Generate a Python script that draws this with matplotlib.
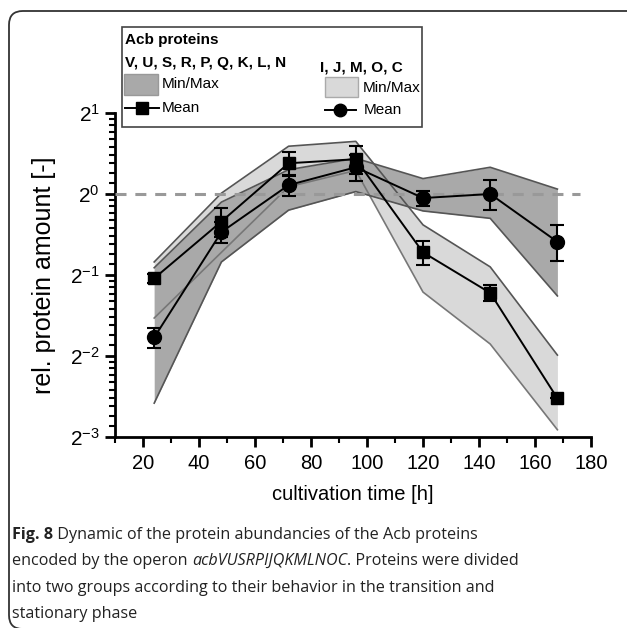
import numpy as np
import matplotlib
matplotlib.use("Agg")
import matplotlib.pyplot as plt
from matplotlib.patches import FancyBboxPatch, Rectangle
from matplotlib.lines import Line2D
from matplotlib.ticker import LogLocator, FuncFormatter, MultipleLocator, NullFormatter

# ---------------- data ----------------
time_h = [24, 48, 72, 96, 120, 144, 168]

# squares (mean) with light min/max band
sq_mean = [0.486, 0.790, 1.301, 1.347, 0.607, 0.429, 0.174]
sq_err = [0.02, 0.10, 0.13, 0.16, 0.06, 0.03, 0.0]
light_max = [0.559, 1.007, 1.505, 1.569, 0.768, 0.536, 0.252]
light_min = [0.346, 0.607, 1.064, 1.223, 0.432, 0.277, 0.133]

# circles (mean) with dark min/max band
ci_mean = [0.293, 0.722, 1.079, 1.257, 0.966, 1.000, 0.664]
ci_err = [0.025, 0.063, 0.10, 0.14, 0.06, 0.13, 0.10]
dark_max = [0.532, 0.933, 1.231, 1.357, 1.141, 1.257, 1.043]
dark_min = [0.167, 0.559, 0.871, 1.021, 0.865, 0.812, 0.418]

y_exponents = [-3, -2, -1, 0, 1]
x_ticks = [20, 40, 60, 80, 100, 120, 140, 160, 180]

group1_label = "V, U, S, R, P, Q, K, L, N"
group2_label = "I, J, M, O, C"

# ---------------- style ----------------
FONT = ["Liberation Sans", "DejaVu Sans"]
plt.rcParams["font.family"] = FONT
plt.rcParams["mathtext.fontset"] = "custom"
plt.rcParams["mathtext.rm"] = "Liberation Sans"
plt.rcParams["mathtext.it"] = "Liberation Sans"

W, H = 627, 628
fig = plt.figure(figsize=(W / 100, H / 100), dpi=100)

def fx(px):
    return px / W

def fy(py):
    return 1 - py / H

# outer rounded frame
frame = FancyBboxPatch((fx(9), fy(629)), fx(645) - fx(9), fy(11) - fy(629),
                       boxstyle="round,pad=0,rounding_size=0.022",
                       transform=fig.transFigure, fill=False,
                       edgecolor="#333333", linewidth=1.3, clip_on=False)
fig.patches.append(frame)

ax = fig.add_axes([fx(115), fy(437), fx(591) - fx(115), fy(113) - fy(437)])

LIGHT = "#d9d9d9"
DARK = "#a9a9a9"
EDGE = "#555555"

ax.fill_between(time_h, light_min, light_max, color=LIGHT, lw=0, zorder=1)
ax.fill_between(time_h, dark_min, dark_max, color=DARK, lw=0, zorder=2)
for arr, c in [(light_max, EDGE), (light_min, "#777777"), (dark_max, EDGE), (dark_min, EDGE)]:
    ax.plot(time_h, arr, color=c, lw=1.2, zorder=3)

ax.plot([10, 176], [1, 1], color="#999999", lw=2.2, ls=(0, (3.6, 2.9)), zorder=4)

ax.errorbar(time_h, sq_mean, yerr=sq_err, color="black", lw=1.4, marker="s",
            ms=9, capsize=5, capthick=1.5, elinewidth=1.5, zorder=6)
ax.errorbar(time_h, ci_mean, yerr=ci_err, color="black", lw=1.4, marker="o",
            ms=10, capsize=5, capthick=1.5, elinewidth=1.5, zorder=6)

ax.set_yscale("log", base=2)
ax.set_ylim(2.0 ** -3, 2.0 ** 1)
ax.set_xlim(10, 180)
ax.set_yticks([2.0 ** e for e in y_exponents])
ax.yaxis.set_major_formatter(FuncFormatter(lambda v, p: r"$2^{%d}$" % int(round(np.log2(v)))))
ax.yaxis.set_minor_locator(LogLocator(base=2, subs=np.arange(1.1, 2.0, 0.1)))
ax.yaxis.set_minor_formatter(NullFormatter())
ax.set_xticks(x_ticks)
ax.xaxis.set_minor_locator(MultipleLocator(10))
ax.xaxis.set_minor_formatter(NullFormatter())

for s in ["top", "right"]:
    ax.spines[s].set_visible(False)
for s in ["left", "bottom"]:
    ax.spines[s].set_linewidth(2)
ax.tick_params(which="major", length=7, width=2, direction="out")
ax.tick_params(which="minor", length=4, width=1.5, direction="out")
ax.tick_params(axis="x", labelsize=14.5, pad=5)
ax.tick_params(axis="y", labelsize=15, pad=4)
ax.set_facecolor("none")

ax.set_xlabel("cultivation time [h]", fontsize=14.5, labelpad=9)
ax.set_ylabel("rel. protein amount [-]", fontsize=18, labelpad=10)

# ---------------- legend box ----------------
fig.patches.append(Rectangle((fx(122), fy(127)), fx(422) - fx(122), fy(27) - fy(127),
                             transform=fig.transFigure, facecolor="white",
                             edgecolor="#444444", lw=1.2, zorder=10))
tk = dict(transform=fig.transFigure, va="center", ha="left", zorder=11)
LFS = 11
fig.text(fx(125), fy(40), "Acb proteins", fontsize=LFS, fontweight="bold", **tk)
fig.text(fx(125), fy(63), group1_label, fontsize=LFS, fontweight="bold", **tk)
fig.text(fx(320), fy(67), group2_label, fontsize=LFS, fontweight="bold", **tk)
fig.patches.append(Rectangle((fx(124), fy(95)), fx(158) - fx(124), fy(74) - fy(95),
                             transform=fig.transFigure, facecolor=DARK,
                             edgecolor="#999999", lw=1, zorder=11))
fig.patches.append(Rectangle((fx(325), fy(97)), fx(358) - fx(325), fy(77) - fy(97),
                             transform=fig.transFigure, facecolor=LIGHT,
                             edgecolor="#aaaaaa", lw=1, zorder=11))
fig.text(fx(162), fy(84), "Min/Max", fontsize=LFS, **tk)
fig.text(fx(363), fy(88), "Min/Max", fontsize=LFS, **tk)
fig.lines.append(Line2D([fx(125), fx(159)], [fy(108), fy(108)], transform=fig.transFigure,
                        color="black", lw=1.4, zorder=12))
fig.lines.append(Line2D([fx(142)], [fy(108)], transform=fig.transFigure,
                        color="black", marker="s", ms=8, ls="none", zorder=12))
fig.text(fx(162), fy(108), "Mean", fontsize=LFS, **tk)
fig.lines.append(Line2D([fx(325), fx(356)], [fy(110), fy(110)], transform=fig.transFigure,
                        color="black", lw=1.4, zorder=12))
fig.lines.append(Line2D([fx(340)], [fy(110)], transform=fig.transFigure,
                        color="black", marker="o", ms=9, ls="none", zorder=12))
fig.text(fx(364), fy(110), "Mean", fontsize=LFS, **tk)

# ---------------- caption ----------------
CAP = ["Open Sans", "DejaVu Sans"]
CFS = 11.6
cap_lines_y = [535, 561, 588, 614]
fig.canvas.draw()
r = fig.canvas.get_renderer()

def run(parts, ypx):
    x = fx(12)
    for txt, kw in parts:
        t = fig.text(x, fy(ypx), txt, fontsize=CFS, family=CAP, color="#222222",
                     va="center", ha="left", **kw)
        bb = t.get_window_extent(r)
        x = bb.x1 / W

run([("Fig. 8", dict(fontweight="bold")),
     (" Dynamic of the protein abundancies of the Acb proteins", {})], cap_lines_y[0])
run([("encoded by the operon ", {}), ("acbVUSRPIJQKMLNOC", dict(style="italic")),
     (". Proteins were divided", {})], cap_lines_y[1])
run([("into two groups according to their behavior in the transition and", {})], cap_lines_y[2])
run([("stationary phase", {})], cap_lines_y[3])

fig.savefig("out.png", dpi=100)
